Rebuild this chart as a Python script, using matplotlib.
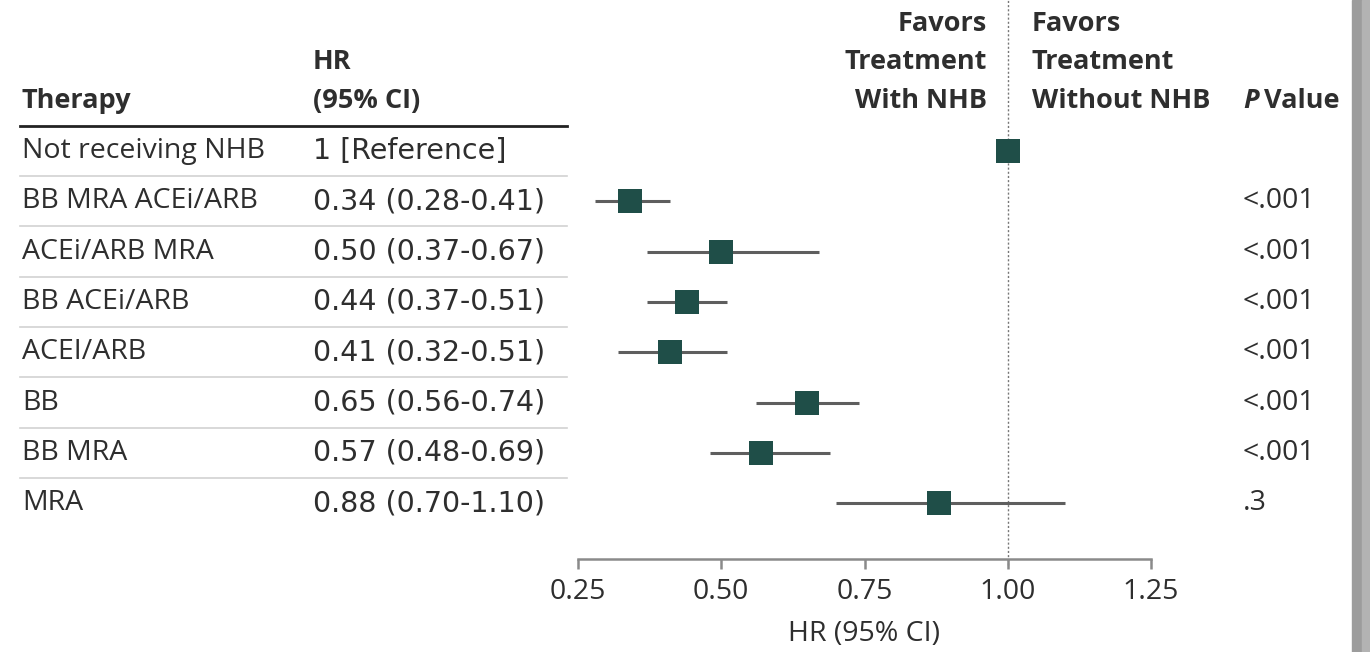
import matplotlib
matplotlib.use("Agg")
import matplotlib.pyplot as plt
from matplotlib.patches import Rectangle
from matplotlib.transforms import blended_transform_factory

###############################################
# Data
###############################################

therapies = ["Not receiving NHB", "BB MRA ACEi/ARB", "ACEi/ARB MRA", "BB ACEi/ARB",
             "ACEI/ARB", "BB", "BB MRA", "MRA"]
hr = [1.00, 0.34, 0.50, 0.44, 0.41, 0.65, 0.57, 0.88]
ci_lo = [None, 0.28, 0.37, 0.37, 0.32, 0.56, 0.48, 0.70]
ci_hi = [None, 0.41, 0.67, 0.51, 0.51, 0.74, 0.69, 1.10]
hr_labels = ["1 [Reference]", "0.34 (0.28-0.41)", "0.50 (0.37-0.67)", "0.44 (0.37-0.51)",
             "0.41 (0.32-0.51)", "0.65 (0.56-0.74)", "0.57 (0.48-0.69)", "0.88 (0.70-1.10)"]
p_values = ["", "<.001", "<.001", "<.001", "<.001", "<.001", "<.001", ".3"]
xticks = [0.25, 0.50, 0.75, 1.00, 1.25]

###############################################
# Style
###############################################

W, H = 1370, 652
TEXT = "#2e2e2e"
MARK = "#1f4e48"
LINE = "#5e5e5e"
AXIS = "#8a8a8a"
FS = 20.5
FS_HEAD = 19.5

plt.rcParams["font.family"] = ["Open Sans", "DejaVu Sans"]

fig = plt.figure(figsize=(W / 100, H / 100), dpi=100)
ax = fig.add_axes([578 / W, (H - 559) / H, (1151 - 578) / W, 559 / H])
ax.set_xlim(0.25, 1.25)
ax.set_ylim(8.11, -3.0)

# figure x (pixels) + data y
tr = blended_transform_factory(fig.transFigure, ax.transData)
def px(x):
    return x / W

###############################################
# Forest
###############################################

rows = list(range(len(therapies)))
for i in rows:
    if ci_lo[i] is not None:
        ax.plot([ci_lo[i], ci_hi[i]], [i, i], color=LINE, lw=2.2, solid_capstyle="butt", zorder=2)
ax.scatter(hr, rows, marker="s", s=275, color=MARK, zorder=3, linewidths=0)
ax.axvline(1.0, ymin=-0.01, ymax=1, color="#777777", lw=1, ls=(0, (1.5, 1.5)), zorder=1, clip_on=False)

ax.set_xticks(xticks)
ax.set_xticklabels([f"{t:.2f}" for t in xticks], fontsize=FS, color=TEXT)
ax.set_xlabel("HR (95% CI)", fontsize=FS, color=TEXT, labelpad=10)
ax.tick_params(axis="x", length=7, width=1.8, color=AXIS, pad=7)
ax.set_yticks([])
for s in ["top", "right", "left"]:
    ax.spines[s].set_visible(False)
ax.spines["bottom"].set_color(AXIS)
ax.spines["bottom"].set_linewidth(1.8)
ax.spines["bottom"].set_bounds(0.25, 1.25)
ax.patch.set_alpha(0)

###############################################
# Table
###############################################

for i in rows:
    fig.text(px(22), i, therapies[i], transform=tr, fontsize=FS, color=TEXT, va="center")
    fig.text(px(313), i, hr_labels[i], transform=tr, fontsize=20.5, color=TEXT, va="center",
             family="DejaVu Sans")
    if p_values[i]:
        fig.text(px(1243), i, p_values[i], transform=tr, fontsize=FS, color=TEXT, va="center")
    if i > 0:
        fig.add_artist(plt.Line2D([px(20), px(567)], [i - 0.5, i - 0.5], transform=tr,
                                  color="#d2d2d2", lw=1.2))

fig.add_artist(plt.Line2D([px(20), px(567)], [-0.495, -0.495], transform=tr, color="#222222", lw=2))

hy = [-2.52, -1.77, -0.99]
bold = dict(fontsize=FS_HEAD, color=TEXT, fontweight="bold", va="center", transform=tr)
fig.text(px(22), hy[2], "Therapy", **bold)
fig.text(px(313), hy[1], "HR", **bold)
fig.text(px(313), hy[2], "(95% CI)", **bold)
for y, t in zip(hy, ["Favors", "Treatment", "With NHB"]):
    fig.text(px(987), y, t, ha="right", **bold)
for y, t in zip(hy, ["Favors", "Treatment", "Without NHB"]):
    fig.text(px(1032), y, t, ha="left", **bold)
ptxt = fig.text(px(1243), hy[2], "P", fontstyle="italic", **bold)
ax.annotate("Value", xy=(1, 0), xycoords=ptxt, xytext=(4, 0), textcoords="offset points",
            fontsize=FS_HEAD, color=TEXT, fontweight="bold", va="bottom", ha="left")

# grey strip on the right edge
fig.add_artist(Rectangle((1352 / W, 0), 10 / W, 1, transform=fig.transFigure, color="#9c9c9c"))
fig.add_artist(Rectangle((1362 / W, 0), 8 / W, 1, transform=fig.transFigure, color="#b3b3b3"))

fig.savefig("out.png", dpi=100)
